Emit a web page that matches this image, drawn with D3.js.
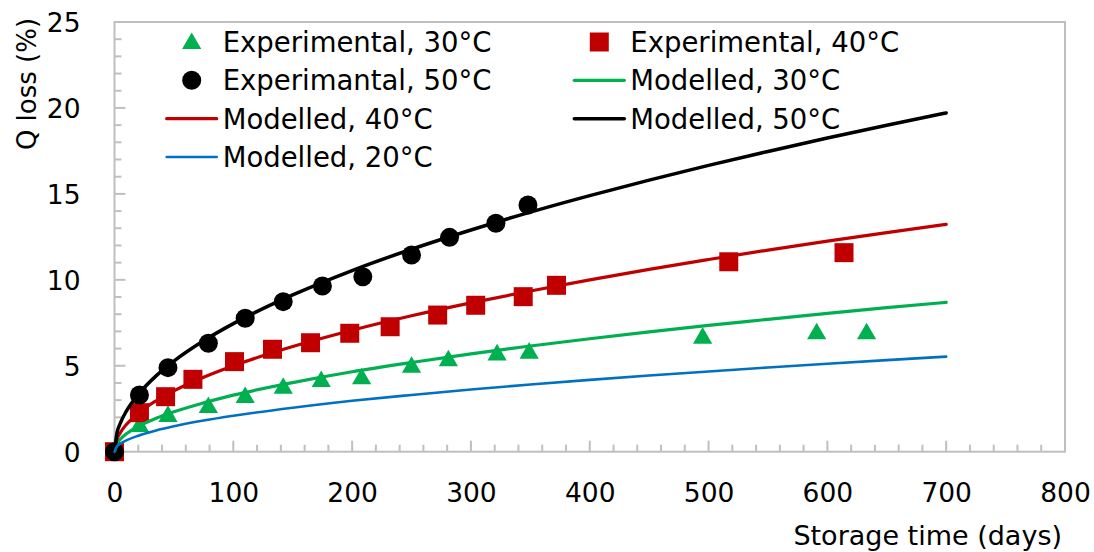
<!DOCTYPE html>
<html>
<head>
<meta charset="utf-8">
<script src="https://cdn.jsdelivr.net/npm/d3@7"></script>
<style>
  html, body { margin: 0; padding: 0; background: #fff; }
  svg { display: block; font-family: "DejaVu Sans", sans-serif; }
</style>
</head>
<body>
<svg id="chart" width="1094" height="552"></svg>
<script>
// Capacity loss during storage: measured points and model curves
const exp30Days = [0, 21, 45, 79, 110, 142, 174, 208, 250, 281, 322, 349, 495, 591, 633];
const exp30Loss = [0, 1.55, 2.14, 2.66, 3.24, 3.78, 4.17, 4.33, 5.00, 5.38, 5.72, 5.82, 6.69, 6.95, 6.95];

const exp40Days = [0, 21, 43, 66, 101, 133, 165, 198, 232, 272, 304, 344, 372, 517, 614];
const exp40Loss = [0, 2.27, 3.20, 4.21, 5.24, 5.96, 6.34, 6.89, 7.27, 7.95, 8.52, 9.02, 9.68, 11.05, 11.58];

const exp50Days = [0, 21, 45, 79, 110, 142, 175, 209, 250, 282, 321, 348];
const exp50Loss = [0, 3.30, 4.89, 6.31, 7.76, 8.73, 9.64, 10.18, 11.44, 12.47, 13.29, 14.35];

const modelDays  = [0, 2, 5, 10, 20, 35, 50, 75, 100, 150, 200, 250, 300, 350, 400, 450, 500, 550, 600, 650, 700];
const model20Loss = [0, 0.30, 0.47, 0.66, 0.93, 1.24, 1.48, 1.81, 2.09, 2.56, 2.96, 3.30, 3.62, 3.91, 4.18, 4.43, 4.67, 4.90, 5.12, 5.33, 5.53];
const model30Loss = [0, 0.46, 0.73, 1.04, 1.47, 1.94, 2.32, 2.84, 3.29, 4.02, 4.65, 5.19, 5.69, 6.15, 6.57, 6.97, 7.35, 7.70, 8.05, 8.38, 8.69];
const model40Loss = [0, 0.71, 1.12, 1.58, 2.24, 2.96, 3.54, 4.33, 5.00, 6.12, 7.07, 7.91, 8.66, 9.35, 10.00, 10.61, 11.18, 11.73, 12.25, 12.75, 13.23];
const model50Loss = [0, 1.05, 1.67, 2.36, 3.33, 4.41, 5.27, 6.45, 7.45, 9.12, 10.54, 11.78, 12.90, 13.94, 14.90, 15.80, 16.66, 17.47, 18.25, 18.99, 19.71];

const xTickValues = [0, 100, 200, 300, 400, 500, 600, 700, 800];
const yTickValues = [0, 5, 10, 15, 20, 25];

const legendLabels = [
  "Experimental, 30°C", "Experimental, 40°C",
  "Experimantal, 50°C", "Modelled, 30°C",
  "Modelled, 40°C", "Modelled, 50°C",
  "Modelled, 20°C"
];

const GREEN = "#00b050", RED = "#c00000", BLACK = "#000000", BLUE = "#0070c0", GRID = "#bfbfbf";

const svg = d3.select("#chart");
const plot = { left: 114.5, right: 1065, top: 22, bottom: 451.7 };

const x = d3.scaleLinear().domain([0, 800]).range([plot.left, plot.right]);
const y = d3.scaleLinear().domain([0, 25]).range([plot.bottom, plot.top]);

// Plot frame
svg.append("rect")
  .attr("x", plot.left).attr("y", plot.top)
  .attr("width", plot.right - plot.left).attr("height", plot.bottom - plot.top)
  .attr("fill", "none").attr("stroke", GRID).attr("stroke-width", 2);

// Inward-pointing minor and major ticks
const xMinor = d3.range(0, 801, 20);
const yMinor = d3.range(0, 26, 1);
const axisTicks = svg.append("g").attr("stroke", GRID).attr("stroke-width", 2);
axisTicks.selectAll("line.xt").data(xMinor).join("line")
  .attr("x1", d => x(d)).attr("x2", d => x(d))
  .attr("y1", plot.bottom).attr("y2", d => plot.bottom - (d % 100 === 0 ? 11 : 7));
axisTicks.selectAll("line.yt").data(yMinor).join("line")
  .attr("y1", d => y(d)).attr("y2", d => y(d))
  .attr("x1", plot.left).attr("x2", d => plot.left + (d % 5 === 0 ? 11 : 7));

// Tick labels through d3 axes (lines hidden, labels kept)
const xAxis = svg.append("g")
  .attr("transform", `translate(0,${plot.bottom})`)
  .call(d3.axisBottom(x).tickValues(xTickValues).tickSize(0).tickPadding(41));
const yAxis = svg.append("g")
  .attr("transform", `translate(${plot.left},0)`)
  .call(d3.axisLeft(y).tickValues(yTickValues).tickSize(0).tickPadding(34));
[xAxis, yAxis].forEach(g => {
  g.select(".domain").remove();
  g.selectAll("text")
    .attr("font-family", "DejaVu Sans, sans-serif")
    .attr("font-size", 26.5).attr("fill", "#000");
});
xAxis.selectAll("text").attr("dy", null).attr("dominant-baseline", "central").attr("y", 41);
yAxis.selectAll("text").attr("dy", null).attr("dominant-baseline", "central");

// Axis titles
svg.append("text")
  .attr("transform", "translate(27,84) rotate(-90)")
  .attr("text-anchor", "middle").attr("dominant-baseline", "central")
  .attr("font-size", 26).text("Q loss (%)");
svg.append("text")
  .attr("x", 1062).attr("y", 535)
  .attr("text-anchor", "end").attr("dominant-baseline", "central")
  .attr("font-size", 27).text("Storage time (days)");

// Marker symbols
const tri = d3.symbol().type(d3.symbolTriangle).size(160);
const sq = d3.symbol().type(d3.symbolSquare).size(361);
const circ = d3.symbol().type(d3.symbolCircle).size(Math.PI * 9.5 * 9.5);

const zip = (a, b) => a.map((d, i) => [d, b[i]]);

const marks = svg.append("g");
marks.selectAll("path.t30").data(zip(exp30Days, exp30Loss)).join("path")
  .attr("d", tri).attr("fill", GREEN)
  .attr("transform", d => `translate(${x(d[0])},${y(d[1]) + 1.5})`);
marks.selectAll("path.s40").data(zip(exp40Days, exp40Loss)).join("path")
  .attr("d", sq).attr("fill", RED)
  .attr("transform", d => `translate(${x(d[0])},${y(d[1])})`);
marks.selectAll("path.c50").data(zip(exp50Days, exp50Loss)).join("path")
  .attr("d", circ).attr("fill", BLACK)
  .attr("transform", d => `translate(${x(d[0])},${y(d[1])})`);

// Model curves
const line = d3.line().x(d => x(d[0])).y(d => y(d[1])).curve(d3.curveMonotoneX);
const curves = [
  { vals: model30Loss, color: GREEN, w: 3.2 },
  { vals: model40Loss, color: RED, w: 3.2 },
  { vals: model50Loss, color: BLACK, w: 3.5 },
  { vals: model20Loss, color: BLUE, w: 2.6 }
];
svg.append("g").selectAll("path").data(curves).join("path")
  .attr("d", c => line(zip(modelDays, c.vals)))
  .attr("fill", "none").attr("stroke", c => c.color).attr("stroke-width", c => c.w)
  .attr("stroke-linecap", "round").attr("stroke-linejoin", "round");

// Legend: two columns, row-major
const legendKinds = [
  { kind: "tri", color: GREEN }, { kind: "sq", color: RED },
  { kind: "circ", color: BLACK }, { kind: "line", color: GREEN, w: 3.2 },
  { kind: "line", color: RED, w: 3.2 }, { kind: "line", color: BLACK, w: 3.5 },
  { kind: "line", color: BLUE, w: 2.6 }
];
const colX = [191.7, 599.3];
const rowY = [42, 80.3, 118.7, 157];
const legend = svg.append("g");
legendLabels.forEach((label, i) => {
  const cx = colX[i % 2], cy = rowY[Math.floor(i / 2)];
  const k = legendKinds[i];
  const g = legend.append("g");
  if (k.kind === "line") {
    g.append("line").attr("x1", cx - 25).attr("x2", cx + 25)
      .attr("y1", cy).attr("y2", cy)
      .attr("stroke", k.color).attr("stroke-width", k.w).attr("stroke-linecap", "round");
  } else {
    const sym = k.kind === "tri" ? tri : k.kind === "sq" ? sq : circ;
    g.append("path").attr("d", sym).attr("fill", k.color)
      .attr("transform", `translate(${cx},${cy + (k.kind === "tri" ? 1.5 : 0)})`);
  }
  g.append("text").attr("x", cx + 31).attr("y", cy)
    .attr("dominant-baseline", "central").attr("font-size", 27.5).text(label);
});
</script>
</body>
</html>
